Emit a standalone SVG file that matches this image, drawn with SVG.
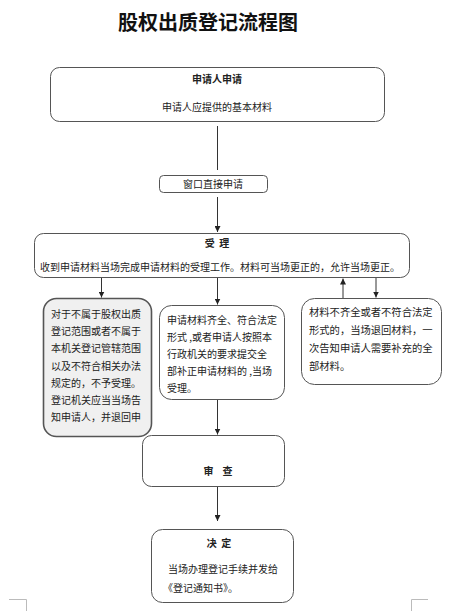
<svg xmlns="http://www.w3.org/2000/svg" width="465" height="611" viewBox="0 0 465 611">
<defs>
<style>
.box{fill:#fff;stroke:#555;stroke-width:1}
.gbox{fill:#f0f0f0;stroke:#555;stroke-width:1.6}
.t{font-family:"Noto Sans CJK SC","Noto Sans",sans-serif;font-size:10px;fill:#222}
.b{font-weight:bold}
.c{text-anchor:middle}
.ln{stroke:#333;stroke-width:1;fill:none}
.mk{stroke:#bbb;stroke-width:1;fill:none}
</style>
<marker id="ah" viewBox="0 0 8 8" refX="8" refY="4" markerWidth="6" markerHeight="6" markerUnits="userSpaceOnUse" orient="auto">
<path d="M0,0 L8,4 L0,8 Z" fill="#222"/>
</marker>
</defs>
<rect width="465" height="611" fill="#fff"/>
<text class="t b c" x="208" y="30" style="font-size:20px;fill:#111">股权出质登记流程图</text>

<g id="n-apply">
<rect class="box" x="50.5" y="67.5" width="334" height="54" rx="9"/>
<text class="t b c" x="217" y="83">申请人申请</text>
<text class="t c" x="217" y="111">申请人应提供的基本材料</text>
</g>

<g id="n-window">
<rect class="box" x="159.5" y="175.5" width="108" height="17" rx="4"/>
<text class="t c" x="213" y="187.5">窗口直接申请</text>
</g>

<g id="n-accept">
<rect class="box" x="34.5" y="233.5" width="375" height="44" rx="9"/>
<text class="t b c" x="217" y="247" xml:space="preserve">受  理</text>
<text class="t" x="40" y="271">收到申请材料当场完成申请材料的受理工作。材料可当场更正的，允许当场更正。</text>
</g>

<g id="n-reject">
<rect class="gbox" x="43.5" y="298.5" width="108" height="138" rx="13"/>
<text class="t" x="51" y="317.5">对于不属于股权出质</text>
<text class="t" x="51" y="334.5">登记范围或者不属于</text>
<text class="t" x="51" y="351.5">本机关登记管辖范围</text>
<text class="t" x="51" y="369.5">以及不符合相关办法</text>
<text class="t" x="51" y="386.5">规定的，不予受理。</text>
<text class="t" x="51" y="403.5">登记机关应当当场告</text>
<text class="t" x="51" y="420.5">知申请人，并退回申</text>
</g>

<g id="n-complete">
<rect class="box" x="159.5" y="305.5" width="125" height="94" rx="12"/>
<text class="t" x="167" y="323.5">申请材料齐全、符合法定</text>
<text class="t" x="167" y="340.5">形式 ,或者申请人按照本</text>
<text class="t" x="167" y="357.5">行政机关的要求提交全</text>
<text class="t" x="167" y="374.5">部补正申请材料的 ,当场</text>
<text class="t" x="167" y="391.5">受理。</text>
</g>

<g id="n-incomplete">
<rect class="box" x="301.5" y="298.5" width="140" height="86" rx="13"/>
<text class="t" x="309" y="315.5" style="font-size:10.3px">材料不齐全或者不符合法定</text>
<text class="t" x="309" y="333.5" style="font-size:10.3px">形式的，当场退回材料，一</text>
<text class="t" x="309" y="351.5" style="font-size:10.3px">次告知申请人需要补充的全</text>
<text class="t" x="309" y="369.5" style="font-size:10.3px">部材料。</text>
</g>

<g id="n-review">
<rect class="box" x="142.5" y="435.5" width="142" height="51" rx="9"/>
<text class="t b c" x="218" y="475" xml:space="preserve">审    查</text>
</g>

<g id="n-decide">
<rect class="box" x="151.5" y="529.5" width="142" height="73" rx="11"/>
<text class="t b c" x="219" y="547" xml:space="preserve">决  定</text>
<text class="t" x="168" y="573">当场办理登记手续并发给</text>
<text class="t" x="163" y="592">《登记通知书》。</text>
</g>

<g id="connectors">
<line class="ln" x1="217.5" y1="126" x2="217.5" y2="170"/>
<line class="ln" x1="217.5" y1="197" x2="217.5" y2="232" marker-end="url(#ah)"/>
<line class="ln" x1="101.5" y1="278" x2="101.5" y2="297.5" marker-end="url(#ah)"/>
<line class="ln" x1="217.5" y1="278" x2="217.5" y2="304.5" marker-end="url(#ah)"/>
<line class="ln" x1="343" y1="298" x2="343" y2="278.5" marker-end="url(#ah)"/>
<line class="ln" x1="376" y1="278" x2="376" y2="297.5" marker-end="url(#ah)"/>
<line class="ln" x1="217.5" y1="400" x2="217.5" y2="434.5" marker-end="url(#ah)"/>
<line class="ln" x1="217.5" y1="487" x2="217.5" y2="521" marker-end="url(#ah)"/>
</g>

<path class="mk" d="M9,599.5 H26.5 V611"/>
<path class="mk" d="M428,599.5 H411.5 V611"/>
</svg>
